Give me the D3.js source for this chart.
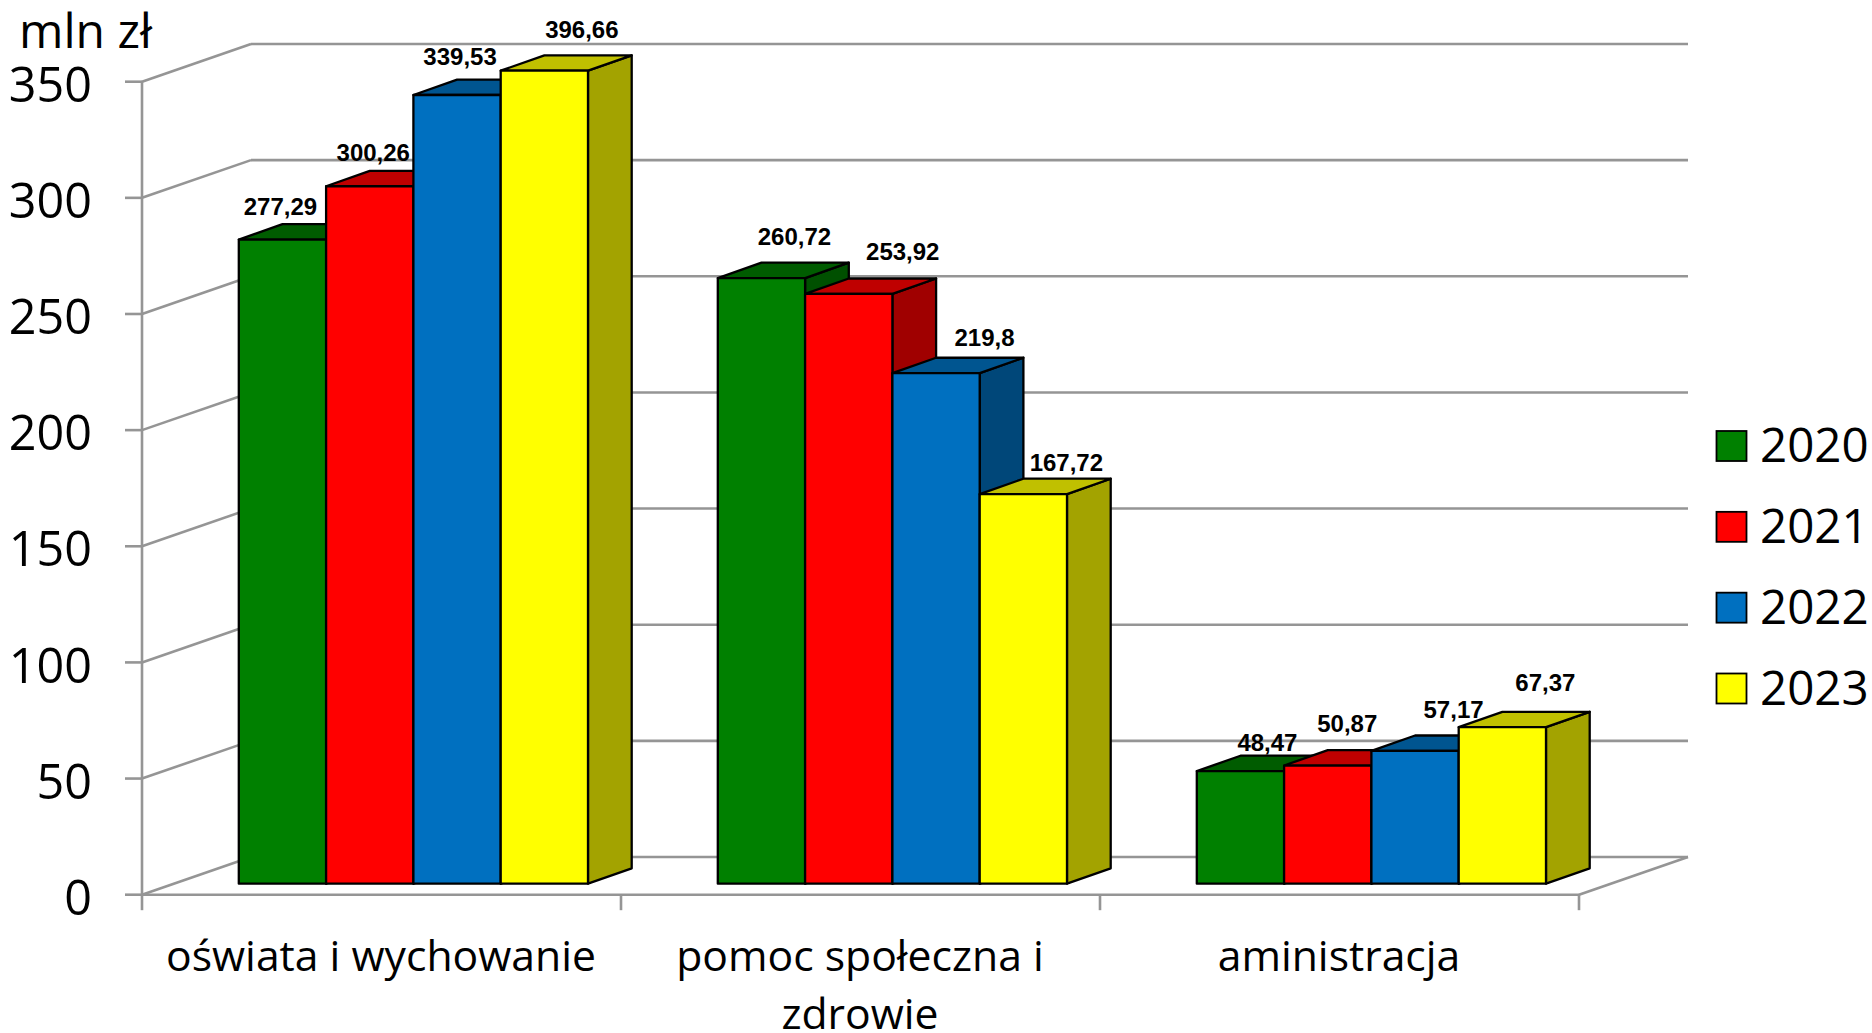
<!DOCTYPE html>
<html lang="pl">
<head>
<meta charset="utf-8">
<title>mln zł</title>
<script src="https://cdn.jsdelivr.net/npm/d3@7/dist/d3.min.js"></script>
<style>
html,body{margin:0;padding:0;background:#fff;overflow:hidden}
svg{display:block}
text{font-family:"Open Sans",sans-serif;fill:#000}
.value{font-family:"Liberation Sans",Arial,sans-serif;font-weight:700;font-size:24px;text-anchor:middle}
</style>
</head>
<body>
<svg id="chart" width="1872" height="1033"></svg>
<script>
// ---- data ----
const categories = ["oświata i wychowanie", "pomoc społeczna i zdrowie", "aministracja"];
const categoryLines = [["oświata i wychowanie"], ["pomoc społeczna i", "zdrowie"], ["aministracja"]];
const years = ["2020", "2021", "2022", "2023"];
const values2020 = [277.29, 260.72, 48.47];
const values2021 = [300.26, 253.92, 50.87];
const values2022 = [339.53, 219.8, 57.17];
const values2023 = [396.66, 167.72, 67.37];
const valueLabels2020 = ["277,29", "260,72", "48,47"];
const valueLabels2021 = ["300,26", "253,92", "50,87"];
const valueLabels2022 = ["339,53", "219,8", "57,17"];
const valueLabels2023 = ["396,66", "167,72", "67,37"];
const yTicks = [0, 50, 100, 150, 200, 250, 300, 350];
const unitLabel = "mln zł";

// ---- styles ----
const frontColors = ["#008000", "#ff0000", "#0070c0", "#ffff00"];
const topColors   = ["#005c00", "#bf0000", "#005590", "#c0c000"];
const sideColors  = ["#005000", "#a00000", "#004779", "#a3a300"];
const gridColor = "#959595";

// ---- layout ----
const axisX = 142, plotRight = 1579, floorY = 894.7, axisTopY = 81.7;
const wallDx = 109, wallDy = 37.7;
const barDx = 43.7, barDy = 15.4;
const barBaseY = 883.7, barMaxY = 70.7;
const barStart = 96.8, barWidth = 87.3;
// label anchors relative to the front-top centre of each bar (manually placed in the source chart)
const labelShift = [
  [[-2, -24.5], [3.5, -25], [3, -30], [37.5, -32.5]],
  [[33, -33], [54, -33.5], [48.5, -27], [43, -23.5]],
  [[27, -20], [19.5, -34], [38.5, -33], [43, -36]]
];

const allValues = [values2020, values2021, values2022, values2023];
const allLabels = [valueLabels2020, valueLabels2021, valueLabels2022, valueLabels2023];

const svg = d3.select("#chart");
const y = d3.scaleLinear().domain([0, 350]).range([floorY, axisTopY]);
const yBar = d3.scaleLinear().domain([0, 350]).range([barBaseY, barMaxY]).clamp(true);
const x0 = d3.scaleBand().domain(categories).range([axisX, plotRight]);
const x1 = d3.scaleBand().domain(years).range([barStart, barStart + 4 * barWidth]);

// walls: back gridlines and side diagonals
const grid = svg.append("g").attr("fill", "none").attr("stroke", gridColor).attr("stroke-width", 2.6);
yTicks.forEach(t => {
  grid.append("line").attr("x1", axisX + wallDx).attr("x2", plotRight + wallDx)
    .attr("y1", y(t) - wallDy).attr("y2", y(t) - wallDy);
  grid.append("line").attr("x1", axisX).attr("x2", axisX + wallDx)
    .attr("y1", y(t)).attr("y2", y(t) - wallDy);
});
grid.append("line").attr("x1", plotRight).attr("x2", plotRight + wallDx)
  .attr("y1", floorY).attr("y2", floorY - wallDy);

// y axis
const yAxis = svg.append("g").attr("transform", `translate(${axisX},0)`)
  .call(d3.axisLeft(y).offset(0).tickValues(yTicks).tickSize(17).tickPadding(33).tickSizeOuter(0));
yAxis.selectAll("path,line").attr("stroke", gridColor).attr("stroke-width", 2.6);
yAxis.selectAll("text").style("font-family", '"Open Sans",sans-serif').style("font-size", "48.5px")
  .attr("dy", "0.415em").attr("fill", "#000");

// x axis
const xEdges = d3.axisBottom(d3.scaleLinear().domain([0, 3]).range([axisX, plotRight]))
  .offset(0).tickValues([0, 1, 2, 3]).tickSize(15.5).tickSizeOuter(0).tickFormat("");
const xAxis = svg.append("g").attr("transform", `translate(0,${floorY})`).call(xEdges);
xAxis.selectAll("path,line").attr("stroke", gridColor).attr("stroke-width", 2.6);

// bars
const bars = svg.append("g").attr("stroke", "#000").attr("stroke-width", 2.3).attr("stroke-linejoin", "round");
categories.forEach((cat, c) => {
  years.forEach((yr, s) => {
    const left = x0(cat) + x1(yr), right = left + x1.bandwidth();
    const top = yBar(allValues[s][c]);
    const g = bars.append("g");
    g.append("polygon").attr("fill", sideColors[s]).attr("points", [
      [right, top], [right + barDx, top - barDy], [right + barDx, barBaseY - barDy], [right, barBaseY]
    ].join(" "));
    g.append("polygon").attr("fill", topColors[s]).attr("points", [
      [left, top], [left + barDx, top - barDy], [right + barDx, top - barDy], [right, top]
    ].join(" "));
    g.append("rect").attr("fill", frontColors[s]).attr("x", left).attr("y", top)
      .attr("width", right - left).attr("height", barBaseY - top);
  });
});

// value labels
categories.forEach((cat, c) => {
  years.forEach((yr, s) => {
    const cx = x0(cat) + x1(yr) + x1.bandwidth() / 2;
    const top = yBar(allValues[s][c]);
    svg.append("text").attr("class", "value")
      .attr("x", cx + labelShift[c][s][0]).attr("y", top + labelShift[c][s][1])
      .text(allLabels[s][c]);
  });
});

// category labels
categories.forEach((cat, c) => {
  const t = svg.append("text").attr("text-anchor", "middle").style("font-size", "42.7px");
  categoryLines[c].forEach((line, i) => {
    t.append("tspan").attr("x", x0(cat) + x0.bandwidth() / 2 - 0.5).attr("y", 971 + i * 57.5).text(line);
  });
});

// unit
svg.append("text").attr("x", 19).attr("y", 48).style("font-size", "48px").text(unitLabel);

// legend
const legendY = d3.scalePoint().domain(years).range([446, 688.5]);
const legend = svg.append("g");
years.forEach((yr, s) => {
  legend.append("rect").attr("x", 1716.5).attr("y", legendY(yr) - 15).attr("width", 30).attr("height", 30)
    .attr("fill", frontColors[s]).attr("stroke", "#000").attr("stroke-width", 1.8);
  legend.append("text").attr("x", 1760).attr("y", legendY(yr) - 1).attr("dy", "0.36em")
    .style("font-size", "47.5px").text(yr);
});
</script>
</body>
</html>
